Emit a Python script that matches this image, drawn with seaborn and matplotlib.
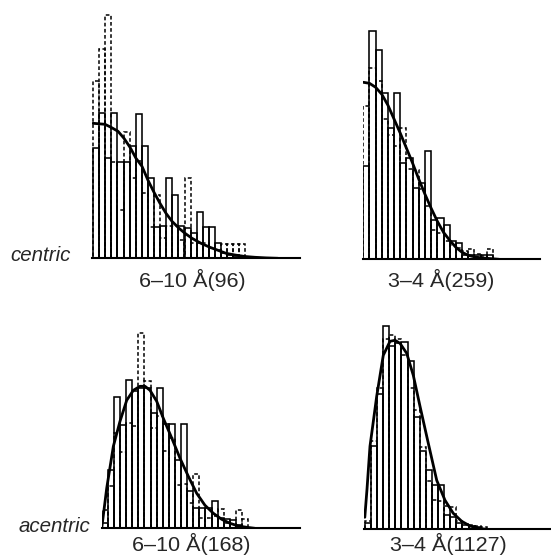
import numpy as np
import pandas as pd
import matplotlib
matplotlib.use("Agg")
import matplotlib.pyplot as plt
import seaborn as sns

sns.set_style("white")
plt.rcParams["font.family"] = ["Liberation Sans", "DejaVu Sans"]

# ---------------- data (heights in relative units) -------------
# panel 1: centric 6-10 Å (96)
p1_solid = [110, 145, 100, 145, 96, 96, 112, 144, 112, 80, 31, 32, 80, 63, 32,
            30, 25, 46, 31, 31, 15, 5, 3, 2, 0]
p1_dashed = [177, 209, 243, 96, 48, 126, 80, 97, 65, 31, 63, 20, 32, 32, 18,
             80, 15, 15, 15, 10, 8, 14, 14, 14, 14]
p1_curve_x = [0, 1.97, 2.95, 4.10, 5.08, 6.07, 7.05, 8.03, 9.02, 10.0, 10.98, 11.97,
              12.95, 14.1, 15.08, 16.23, 17.7, 19.18, 20.49, 21.8, 23.28, 24.92,
              26.56, 28.36, 30.33]
p1_curve_y = [135, 134, 131, 127, 120, 111, 100, 92, 78, 66, 55, 45, 37, 30, 25,
              20, 15, 11, 8, 5, 3.3, 1.8, 1, 0.4, 0]

# panel 2: centric 3-4 Å (259)
p2_solid = [93, 228, 209, 166, 131, 166, 96, 101, 71, 76, 108, 39, 41, 34, 18,
            16, 4, 4, 4, 4, 4]
p2_dashed = [153, 191, 178, 140, 124, 113, 131, 90, 89, 70, 53, 29, 26, 18, 14,
             11, 8, 10, 5, 3, 10]
p2_curve_x = [0, 1, 2, 3, 4, 5, 6, 7, 8, 9, 10, 11, 12, 13, 14, 15, 16, 17, 18,
              19, 20, 21, 22]
p2_curve_y = [177, 176, 172, 165, 154, 140, 126, 111, 96, 80, 65, 51, 38, 27, 19,
              12, 7, 4, 2.5, 1.5, 1, 0.5, 0]

# panel 3: acentric 6-10 Å (168)
p3_solid = [5, 58, 131, 103, 148, 137, 140, 140, 115, 140, 104, 104, 68, 104, 37,
            20, 20, 20, 27, 10, 9, 8, 3, 0]
p3_dashed = [18, 42, 95, 76, 105, 102, 195, 147, 100, 112, 77, 90, 43, 44, 25,
             54, 10, 10, 12, 19, 5, 4, 18, 9]
p3_curve_x = [0, 0.82, 1.91, 3.0, 4.1, 5.19, 6.28, 7.1, 7.92, 9.02, 10.1, 11.5,
              12.84, 14.2, 15.57, 16.93, 18.3, 19.67, 21.03, 22.4, 23.77, 25.1]
p3_curve_y = [0, 40, 82, 107, 128, 138, 142, 142, 138, 127, 110, 90, 70, 52, 35,
              23, 15, 9, 5, 2.3, 1, 0]

# panel 4: acentric 3-4 Å (1127)
p4_solid = [6, 83, 135, 203, 183, 186, 187, 168, 112, 78, 59, 44, 44, 14, 12,
            6, 4, 3, 2, 0]
p4_dashed = [8, 88, 141, 190, 194, 190, 174, 141, 119, 82, 48, 29, 28, 23, 22,
             8, 5, 4, 3, 2]
p4_curve_x = [0, 0.36, 0.85, 1.95, 3.03, 4.13, 4.95, 5.77, 6.87, 7.95, 9.05,
              10.41, 11.79, 13.15, 14.5, 15.89, 17.25, 18.6, 19.98]
p4_curve_y = [12, 40, 83, 133, 174, 188, 189, 186, 176, 154, 123, 86, 49, 29, 16,
              8, 3.3, 1, 0]

panel_labels = ["6–10 Å(96)", "3–4 Å(259)", "6–10 Å(168)", "3–4 Å(1127)"]
row_labels = ["centric", "acentric"]

# ---------------- layout (pixels) -----------------------------------------------------
W, H = 551, 557
fig = plt.figure(figsize=(W / 100, H / 100), dpi=100)

panels = [
    # solid, dashed, cx, cy, first_edge_px, bin_px, line_start, line_end, baseline
    (p1_solid, p1_dashed, p1_curve_x, p1_curve_y, 93.0, 6.1, 91.7, 300, 258.3),
    (p2_solid, p2_dashed, p2_curve_x, p2_curve_y, 363.3, 6.17, 363.0, 540, 259.3),
    (p3_solid, p3_dashed, p3_curve_x, p3_curve_y, 101.7, 6.1, 101.7, 300, 528.3),
    (p4_solid, p4_dashed, p4_curve_x, p4_curve_y, 364.8, 6.1, 364.0, 551, 529.3),
]
AX_H = 250.0

for solid, dashed, cx, cy, edge0, bw, ls, le, base in panels:
    ax = fig.add_axes([ls / W, (H - base) / H, (le - ls) / W, AX_H / H])
    ax.patch.set_alpha(0)
    n = len(solid)
    centers = np.arange(n) + 0.5
    df = pd.DataFrame({"x": centers, "solid": solid, "dashed": dashed})
    sns.histplot(data=df, x="x", weights="solid", binwidth=1, binrange=(0, n),
                 fill=False, element="bars", color="black", linewidth=1.15, ax=ax)
    sns.histplot(data=df, x="x", weights="dashed", binwidth=1, binrange=(0, n),
                 fill=False, element="bars", color="black", linewidth=1.1,
                 linestyle=(0, (2.4, 1.6)), ax=ax)
    cdf = pd.DataFrame({"x": cx, "y": cy})
    sns.lineplot(data=cdf, x="x", y="y", color="black", linewidth=2.0,
                 sort=False, ax=ax)
    ax.set_xlim(-(edge0 - ls) / bw, (le - edge0) / bw)
    ax.set_ylim(0, AX_H)
    ax.set_xticks([])
    ax.set_yticks([])
    ax.set_xlabel("")
    ax.set_ylabel("")
    for s in ["top", "left", "right"]:
        ax.spines[s].set_visible(False)
    ax.spines["bottom"].set_linewidth(1.5)
    ax.spines["bottom"].set_color("black")

def fx(px):
    return px / W

def fy(py):
    return (H - py) / H

fs = 21.5 * 72 / 100
fs_row = 20.5 * 72 / 100
fig.text(fx(192), fy(286.7), panel_labels[0], ha="center", va="baseline", fontsize=fs)
fig.text(fx(441), fy(286.7), panel_labels[1], ha="center", va="baseline", fontsize=fs)
fig.text(fx(191), fy(551), panel_labels[2], ha="center", va="baseline", fontsize=fs)
fig.text(fx(448), fy(551), panel_labels[3], ha="center", va="baseline", fontsize=fs)
fig.text(fx(10.7), fy(260.7), row_labels[0], ha="left", va="baseline", fontsize=fs_row,
         style="italic")
fig.text(fx(19), fy(531.7), row_labels[1], ha="left", va="baseline", fontsize=fs_row,
         style="italic")

fig.savefig("out.png", dpi=100)
